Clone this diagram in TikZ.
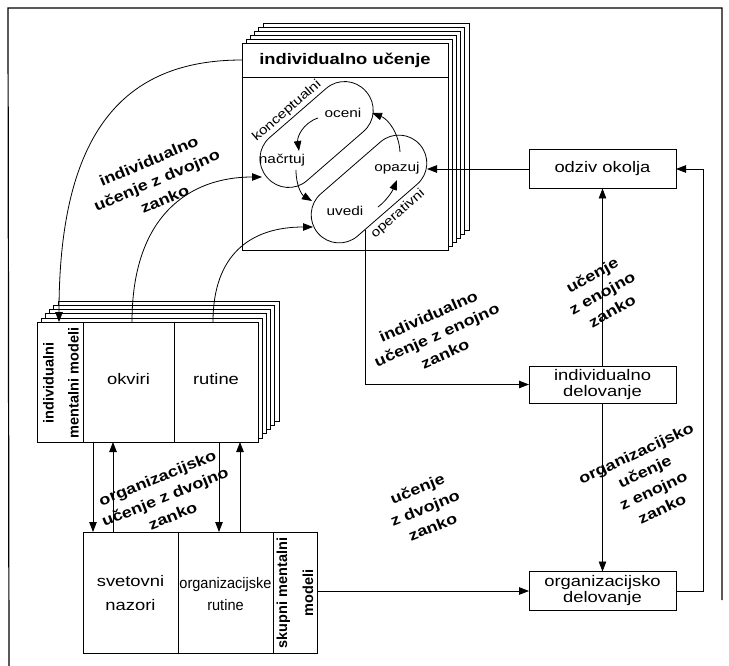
\documentclass[tikz,border=0pt]{standalone}
\usepackage{fontspec}
\setmainfont{Liberation Sans}[FakeStretch=1.2]
\newfontfamily\plainsans{Liberation Sans}
\newfontfamily\condsans{Liberation Sans}[FakeStretch=0.95]
\usetikzlibrary{arrows.meta}

\begin{document}
\begin{tikzpicture}[x=1pt,y=-1pt,
  line width=0.8pt,
  arr/.style={-{Triangle[length=10pt,width=7.5pt]}},
  box/.style={draw, fill=white, inner sep=0pt, outer sep=0pt},
  lbl/.style={font=\bfseries\fontsize{15}{20.5}\selectfont, align=center, inner sep=0pt},
  txt/.style={font=\fontsize{15.3}{16}\selectfont, align=center, inner sep=0pt},
  small/.style={font=\fontsize{12.8}{14}\selectfont, inner sep=1pt},
  strip/.style={font=\plainsans\bfseries\fontsize{14.5}{25}\selectfont, align=center, inner sep=0pt, rotate=90},
  loopbox/.style={draw, inner sep=0pt, outer sep=0pt, rounded corners=28pt, rotate=41},
]
\useasboundingbox (0,0) rectangle (729,666);
% frame
\draw[line width=1.2pt] (9,666) -- (8,8) -- (722,8) -- (722,600);

% ---------- individualno ucenje (stacked) ----------
\foreach \k in {5,4,3,2,1}
  \draw[fill=white] ({242+4.2*\k},{43-4*\k}) rectangle ++(206,207);
\node[box, anchor=north west, minimum width=206pt, minimum height=207pt] (iu) at (242,43) {};
\node[box, anchor=north west, minimum width=206pt, minimum height=34pt,
      font=\bfseries\fontsize{15.3}{18}\selectfont] (hdr) at (242,43) {individualno učenje};

\node[loopbox, minimum width=131pt, minimum height=57pt] (konc) at (316.6,134.5) {};
\node[loopbox, minimum width=135pt, minimum height=56pt] (oper) at (369,189) {};

\node[small] (oceni) at (343,113) {oceni};
\node[small] (nacrtuj) at (282,160) {načrtuj};
\node[small] (opazuj) at (397,168) {opazuj};
\node[small] (uvedi) at (345,211) {uvedi};
\node[small, rotate=41] (kl) at (287,111) {konceptualni};
\node[small, rotate=41] (ol) at (398,214) {operativni};

\coordinate (a1) at (318,118);
\coordinate (a2) at (299,151);
\coordinate (b1) at (296,170);
\coordinate (b2) at (312,201);
\coordinate (c1) at (378,207);
\coordinate (c2) at (397,180);
\coordinate (d1) at (400,152);
\coordinate (d2) at (372,113);
\draw[arr] (a1) .. controls (303,123) and (297,137) .. (a2);
\draw[arr] (b1) .. controls (296,186) and (302,195) .. (b2);
\draw[arr] (c1) .. controls (386,201) and (392,192) .. (c2);
\draw[arr] (d1) .. controls (399,133) and (388,119) .. (d2);

\coordinate (opin) at (427,169);
\coordinate (nin) at (262,177);
\coordinate (uin) at (313,227);
\coordinate (uvout) at (365,230);

% ---------- individualni mentalni modeli (stacked) ----------
\foreach \k in {5,4,3,2,1}
  \draw[fill=white] ({37+4.2*\k},{322-4.1*\k}) rectangle ++(221,120);
\node[box, anchor=north west, minimum width=221pt, minimum height=120pt] (imm) at (37,322) {};
\draw (83,322) -- (83,442);
\draw (174,322) -- (174,442);
\node[strip] (immt) at (61,383) {individualni\\mentalni modeli};
\node[txt] (okviri) at (128.5,379) {okviri};
\node[txt] (rutine) at (216,379) {rutine};

% ---------- skupni mentalni modeli ----------
\node[box, anchor=north west, minimum width=234pt, minimum height=121pt] (smm) at (83,532) {};
\draw (178,532) -- (178,653);
\draw (273,532) -- (273,653);
\node[txt, font=\fontsize{15.3}{23.5}\selectfont] (svet) at (130.5,593) {svetovni\\nazori};
\node[txt, font=\condsans\fontsize{15.3}{22}\selectfont] (orgrut) at (225.5,594) {organizacijske\\rutine};
\node[strip, font=\plainsans\bfseries\fontsize{14.5}{26}\selectfont] (skupt) at (295,593) {skupni mentalni\\modeli};

% ---------- right column ----------
\node[box, txt, minimum width=147pt, minimum height=39pt] (odziv) at (602.5,169) {odziv okolja};
\node[box, txt, minimum width=147pt, minimum height=37pt] (inddel) at (602.5,384.5) {individualno\\delovanje};
\node[box, txt, minimum width=147pt, minimum height=39pt] (orgdel) at (602.5,591) {organizacijsko\\delovanje};

% ---------- connectors ----------
\draw[arr] (hdr.west) .. controls (125,60) and (59,130) .. (imm.north -| 59,0);
\draw[arr] (imm.north -| 132,0) .. controls (132,215) and (190,177) .. (nin);
\draw[arr] (imm.north -| 213,0) .. controls (213,255) and (250,227) .. (uin);

\draw[arr] (imm.south -| 93,0) -- (smm.north -| 93,0);
\draw[arr] (smm.north -| 113,0) -- (imm.south -| 113,0);
\draw[arr] (imm.south -| 219,0) -- (smm.north -| 219,0);
\draw[arr] (smm.north -| 240,0) -- (imm.south -| 240,0);

\draw[arr] (odziv.west) -- (opin);
\draw[arr] (uvout) |- (inddel.west);
\draw[arr] (inddel.north) -- (odziv.south);
\draw[arr] (inddel.south) -- (orgdel.north);
\draw[arr] (orgdel.east) -- ++(27,0) |- (odziv.east);
\draw[arr] (orgdel.west -| smm.east) -- (orgdel.west);

% ---------- labels ----------
\node[lbl, rotate=23] (l1) at (156.7,180) {individualno\\učenje z dvojno\\zanko};
\node[lbl, rotate=24] (l2) at (436.7,335) {individualno\\učenje z enojno\\zanko};
\node[lbl, rotate=29] (l3) at (602,293) {učenje\\z enojno\\zanko};
\node[lbl, rotate=25] (l4) at (649,481) {organizacijsko\\učenje\\z enojno\\zanko};
\node[lbl, rotate=22] (l5) at (425,507.6) {učenje\\z dvojno\\zanko};
\node[lbl, rotate=22] (l6) at (165,496.7) {organizacijsko\\učenje z dvojno\\zanko};
\end{tikzpicture}
\end{document}
